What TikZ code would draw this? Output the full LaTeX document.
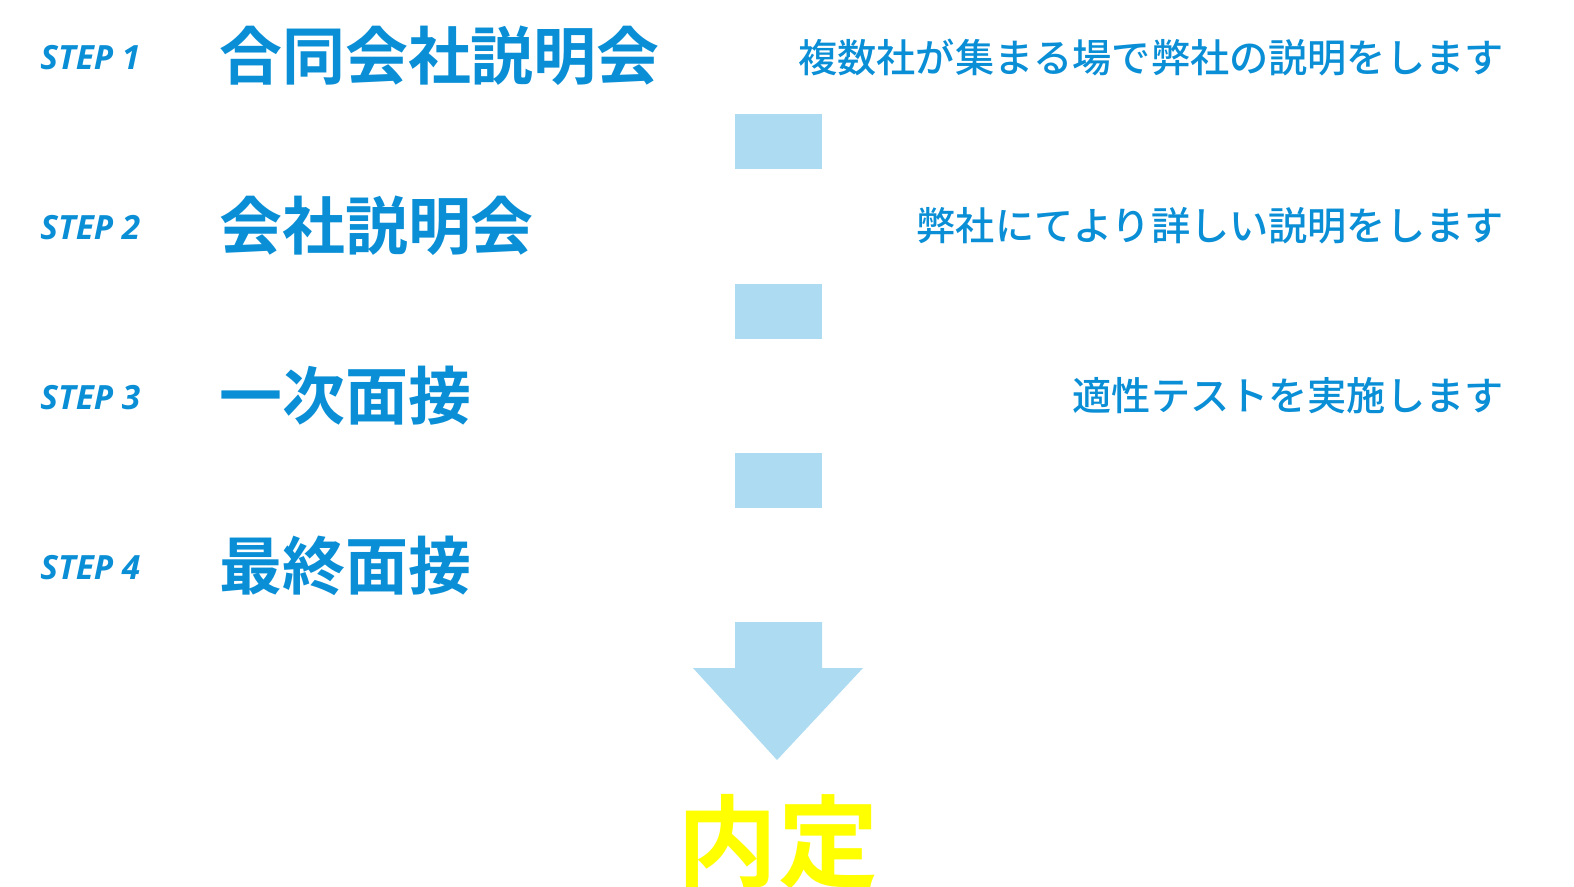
\documentclass[tikz,border=0pt]{standalone}
\usepackage{fontspec}
\setsansfont{Open Sans}
\newfontfamily\jpbold{Noto Sans CJK JP Bold}
\newfontfamily\jpmed{Noto Sans CJK JP Medium}
\definecolor{stepblue}{HTML}{0A8FD6}
\definecolor{boxblue}{HTML}{ADDCF2}
\definecolor{goalyellow}{HTML}{FFFF00}
\usetikzlibrary{positioning}
\begin{document}
\begin{tikzpicture}[x=0.02cm,y=-0.02cm,
every node/.style={inner sep=0pt,text=stepblue},
steplabel/.style={anchor=west,font=\sffamily\bfseries\itshape\fontsize{19}{19}\selectfont},
steptitle/.style={anchor=west,font=\jpbold\fontsize{35.8}{36}\selectfont},
stepnote/.style={anchor=east,font=\jpmed\fontsize{22.3}{23}\selectfont},
gapbox/.style={fill=boxblue,draw=none}]
\useasboundingbox[fill=white] (0,0) rectangle (1574,886);
%steps
\node[steplabel] (s1) at (40,58) {STEP 1};
\node[steptitle] (t1) at (219,56) {合同会社説明会};
\node[stepnote] (n1) at (1504,58) {複数社が集まる場で弊社の説明をします};
\node[steplabel] (s2) at (40,228) {STEP 2};
\node[steptitle] (t2) at (219,226) {会社説明会};
\node[stepnote] (n2) at (1504,226) {弊社にてより詳しい説明をします};
\node[steplabel] (s3) at (40,398) {STEP 3};
\node[steptitle] (t3) at (219,396) {一次面接};
\node[stepnote] (n3) at (1504,396) {適性テストを実施します};
\node[steplabel] (s4) at (40,568) {STEP 4};
\node[steptitle] (t4) at (219,566) {最終面接};
%boxes between steps
\foreach \y in {114,284,453}
	\fill[gapbox] (735,\y) rectangle (822,\y+55);
%arrow to goal
\fill[boxblue] (735,622) -- (822,622) -- (822,668) -- (863,668) -- (777,760)
	-- (693,668) -- (735,668) -- cycle;
\node[font=\jpbold\fontsize{57}{57}\selectfont,text=goalyellow] (goal) at (778,842) {内定};
\end{tikzpicture}
\end{document}
